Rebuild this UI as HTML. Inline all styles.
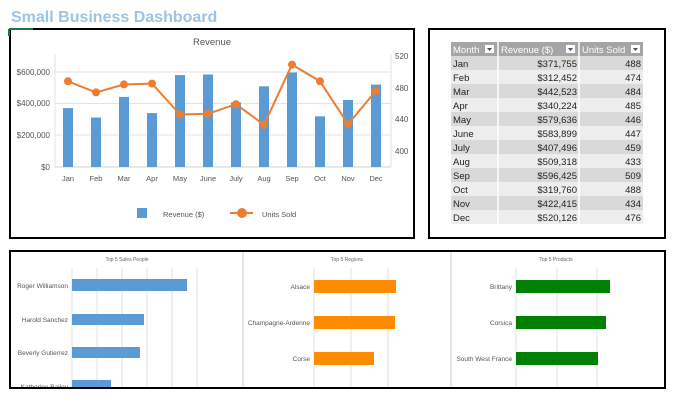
<!DOCTYPE html>
<html><head><meta charset="utf-8"><style>
body{margin:0;background:#fff;width:675px;height:400px;overflow:hidden;font-family:"Liberation Sans",sans-serif}
</style></head><body>
<svg width="675" height="400" xmlns="http://www.w3.org/2000/svg" font-family="Liberation Sans, sans-serif">
<text x="11" y="22" font-size="16" font-weight="bold" fill="#9dc3e6">Small Business Dashboard</text>
<rect x="10" y="29" width="404" height="209" fill="#fff" stroke="#000" stroke-width="2"/>
<line x1="9" y1="29" x2="33" y2="29" stroke="#217346" stroke-width="2"/>
<line x1="9" y1="29" x2="9" y2="36" stroke="#217346" stroke-width="2"/>
<text x="212" y="45" font-size="9.5" fill="#555" text-anchor="middle">Revenue</text>
<g stroke="#e3e3e3" stroke-width="1">
<line x1="55" y1="72" x2="391" y2="72"/><line x1="55" y1="103.5" x2="391" y2="103.5"/><line x1="55" y1="135" x2="391" y2="135"/>
<line x1="55" y1="167" x2="391" y2="167" stroke="#d0d0d0"/>
<line x1="55" y1="54" x2="55" y2="167"/><line x1="391" y1="54" x2="391" y2="167"/>
</g>
<g font-size="8" fill="#555" text-anchor="end">
<text x="50" y="75">$600,000</text><text x="50" y="106">$400,000</text><text x="50" y="138">$200,000</text><text x="50" y="170">$0</text>
</g>
<g font-size="8" fill="#555">
<text x="395" y="59">520</text><text x="395" y="91">480</text><text x="395" y="122">440</text><text x="395" y="154">400</text>
</g>
<g fill="#5b9bd5">
<rect x="63" y="108.1" width="10" height="58.9"/><rect x="91" y="117.5" width="10" height="49.5"/>
<rect x="119" y="96.9" width="10" height="70.1"/><rect x="147" y="113.1" width="10" height="53.9"/>
<rect x="175" y="75.1" width="10" height="91.9"/><rect x="203" y="74.5" width="10" height="92.5"/>
<rect x="231" y="102.4" width="10" height="64.6"/><rect x="259" y="86.3" width="10" height="80.7"/>
<rect x="287" y="72.5" width="10" height="94.5"/><rect x="315" y="116.3" width="10" height="50.7"/>
<rect x="343" y="100" width="10" height="67"/><rect x="371" y="84.6" width="10" height="82.4"/>
</g>
<polyline fill="none" stroke="#ed7d31" stroke-width="2" points="68,81.3 96,92.4 124,84.4 152,83.6 180,114.5 208,113.8 236,104.2 264,124.8 292,64.6 320,81.3 348,124.1 376,90.8"/>
<g fill="#ed7d31">
<circle cx="68" cy="81.3" r="4"/><circle cx="96" cy="92.4" r="4"/><circle cx="124" cy="84.4" r="4"/><circle cx="152" cy="83.6" r="4"/>
<circle cx="180" cy="114.5" r="4"/><circle cx="208" cy="113.8" r="4"/><circle cx="236" cy="104.2" r="4"/><circle cx="264" cy="124.8" r="4"/>
<circle cx="292" cy="64.6" r="4"/><circle cx="320" cy="81.3" r="4"/><circle cx="348" cy="124.1" r="4"/><circle cx="376" cy="90.8" r="4"/>
</g>
<g font-size="7.5" fill="#555" text-anchor="middle">
<text x="68" y="181">Jan</text><text x="96" y="181">Feb</text><text x="124" y="181">Mar</text><text x="152" y="181">Apr</text>
<text x="180" y="181">May</text><text x="208" y="181">June</text><text x="236" y="181">July</text><text x="264" y="181">Aug</text>
<text x="292" y="181">Sep</text><text x="320" y="181">Oct</text><text x="348" y="181">Nov</text><text x="376" y="181">Dec</text>
</g>
<rect x="137" y="208" width="10" height="10" fill="#5b9bd5"/>
<text x="163" y="217" font-size="7.5" fill="#555">Revenue ($)</text>
<line x1="230" y1="213" x2="253" y2="213" stroke="#ed7d31" stroke-width="2"/>
<circle cx="242" cy="213" r="5" fill="#ed7d31"/>
<text x="262" y="217" font-size="7.5" fill="#555">Units Sold</text>

<rect x="429" y="29" width="236" height="209" fill="#fff" stroke="#000" stroke-width="2"/>
<rect x="451" y="42" width="192" height="14" fill="#a5a5a5"/>
<g font-size="9.5" fill="#fff">
<text x="453" y="53">Month</text><text x="501" y="53">Revenue ($)</text><text x="582" y="53">Units Sold</text>
</g>
<g fill="#fff"><rect x="485" y="45" width="9" height="8"/><rect x="566" y="45" width="9" height="8"/><rect x="631" y="45" width="9" height="8"/></g>
<g fill="#44546a"><path d="M487 48h5l-2.5 3z"/><path d="M568 48h5l-2.5 3z"/><path d="M633 48h5l-2.5 3z"/></g>
<g fill="#d9d9d9">
<rect x="451" y="56" width="192" height="14"/><rect x="451" y="84" width="192" height="14"/><rect x="451" y="112" width="192" height="14"/>
<rect x="451" y="140" width="192" height="14"/><rect x="451" y="168" width="192" height="14"/><rect x="451" y="196" width="192" height="14"/>
</g>
<g fill="#ededed">
<rect x="451" y="70" width="192" height="14"/><rect x="451" y="98" width="192" height="14"/><rect x="451" y="126" width="192" height="14"/>
<rect x="451" y="154" width="192" height="14"/><rect x="451" y="182" width="192" height="14"/><rect x="451" y="210" width="192" height="14"/>
</g>
<g stroke="#fff" stroke-width="1.5"><line x1="498" y1="42" x2="498" y2="224"/><line x1="579" y1="42" x2="579" y2="224"/></g>
<g font-size="9.5" fill="#222">
<text x="453" y="67">Jan</text><text x="453" y="81">Feb</text><text x="453" y="95">Mar</text><text x="453" y="109">Apr</text>
<text x="453" y="123">May</text><text x="453" y="137">June</text><text x="453" y="151">July</text><text x="453" y="165">Aug</text>
<text x="453" y="179">Sep</text><text x="453" y="193">Oct</text><text x="453" y="207">Nov</text><text x="453" y="221">Dec</text>
</g>
<g font-size="9.5" fill="#222" text-anchor="end">
<text x="577" y="67">$371,755</text><text x="577" y="81">$312,452</text><text x="577" y="95">$442,523</text><text x="577" y="109">$340,224</text>
<text x="577" y="123">$579,636</text><text x="577" y="137">$583,899</text><text x="577" y="151">$407,496</text><text x="577" y="165">$509,318</text>
<text x="577" y="179">$596,425</text><text x="577" y="193">$319,760</text><text x="577" y="207">$422,415</text><text x="577" y="221">$520,126</text>
<text x="641" y="67">488</text><text x="641" y="81">474</text><text x="641" y="95">484</text><text x="641" y="109">485</text>
<text x="641" y="123">446</text><text x="641" y="137">447</text><text x="641" y="151">459</text><text x="641" y="165">433</text>
<text x="641" y="179">509</text><text x="641" y="193">488</text><text x="641" y="207">434</text><text x="641" y="221">476</text>
</g>

<rect x="10" y="251" width="655" height="137" fill="#fff" stroke="#000" stroke-width="2"/>
<g stroke="#ccc"><line x1="243" y1="252" x2="243" y2="387"/><line x1="451" y1="252" x2="451" y2="387"/></g>
<g stroke="#e0e0e0">
<line x1="72" y1="268" x2="72" y2="387"/><line x1="97" y1="268" x2="97" y2="387"/><line x1="122" y1="268" x2="122" y2="387"/>
<line x1="147" y1="268" x2="147" y2="387"/><line x1="172" y1="268" x2="172" y2="387"/><line x1="197" y1="268" x2="197" y2="387"/>
<line x1="314" y1="268" x2="314" y2="387"/><line x1="351" y1="268" x2="351" y2="387"/><line x1="388" y1="268" x2="388" y2="387"/>
<line x1="516" y1="268" x2="516" y2="387"/><line x1="557" y1="268" x2="557" y2="387"/><line x1="597" y1="268" x2="597" y2="387"/>
</g>
<g font-size="5" fill="#666" text-anchor="middle">
<text x="127" y="261">Top 5 Sales People</text><text x="347" y="261">Top 5 Regions</text><text x="556" y="261">Top 5 Products</text>
</g>
<g fill="#5b9bd5">
<rect x="72" y="279" width="115" height="12"/><rect x="72" y="314" width="72" height="11"/>
<rect x="72" y="347" width="68" height="11"/><rect x="72" y="380" width="39" height="7"/>
</g>
<g fill="#ff8c00">
<rect x="314" y="280" width="82" height="13"/><rect x="314" y="316" width="81" height="13"/><rect x="314" y="352" width="60" height="13"/>
</g>
<g fill="#008000">
<rect x="516" y="280" width="94" height="13"/><rect x="516" y="316" width="90" height="13"/><rect x="516" y="352" width="82" height="13"/>
</g>
<g font-size="6.5" fill="#555" text-anchor="end">
<text x="68" y="288">Roger Williamson</text><text x="68" y="322">Harold Sanchez</text><text x="68" y="355">Beverly Gutierrez</text><text x="68" y="389">Katherine Bailey</text>
<text x="310" y="289">Alsace</text><text x="310" y="325">Champagne-Ardenne</text><text x="310" y="361">Corse</text>
<text x="512" y="289">Brittany</text><text x="512" y="325">Corsica</text><text x="512" y="361">South West France</text>
</g>
<rect x="9" y="389" width="657" height="11" fill="#fff"/>
<line x1="9" y1="388" x2="666" y2="388" stroke="#000" stroke-width="2"/>
</svg>
</body></html>
